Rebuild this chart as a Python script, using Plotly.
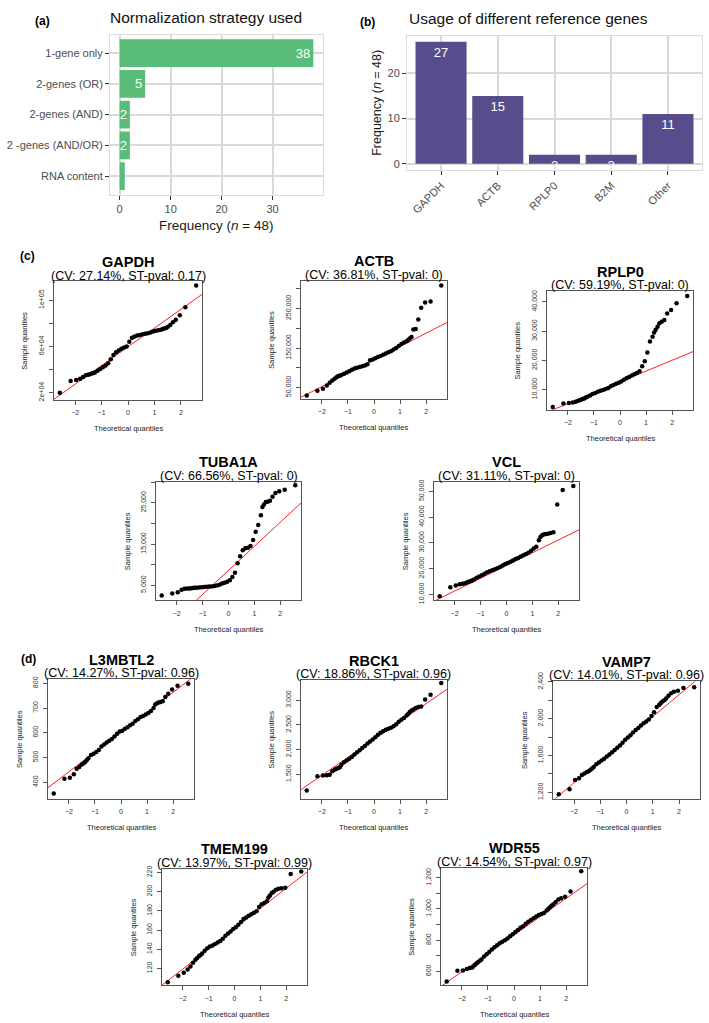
import plotly.graph_objects as go

W, H = 709, 1023
FONT = "Liberation Sans"

# ---------------- data ----------------
# (a) normalization strategy
strategy_labels = ["1-gene only", "2-genes (OR)", "2-genes (AND)", "2 -genes (AND/OR)", "RNA content"]
strategy_counts = [38, 5, 2, 2, 1]
strategy_text = ["38", "5", "2", "2", ""]

# (b) reference genes
ref_genes = ["GAPDH", "ACTB", "RPLP0", "B2M", "Other"]
ref_counts = [27, 15, 2, 2, 11]

# (c)/(d) QQ plots: theoretical quantiles shared by all panels
theo_q = [-2.58, -2.17, -1.96, -1.81, -1.70, -1.60, -1.51, -1.44, -1.37, -1.31, -1.25,
          -1.15, -1.05, -0.95, -0.85, -0.75, -0.65, -0.55, -0.45, -0.35, -0.25, -0.15, -0.05,
          0.05, 0.15, 0.25, 0.35, 0.45, 0.55, 0.65, 0.75, 0.85, 0.95, 1.05, 1.15,
          1.25, 1.31, 1.37, 1.44, 1.51, 1.60, 1.70, 1.81, 1.96, 2.17, 2.58]

gapdh_q = [20000, 30000, 31000, 32000, 33500, 35000, 35500, 36000, 36500, 37000, 37500,
           39000, 40500, 42000, 43500, 45500, 49000, 52500, 55000, 56500, 58000, 59000, 60000,
           64000, 67500, 68500, 69500, 70000, 70500, 71000, 71500, 72000, 73000, 73500, 74000,
           74500, 75000, 75500, 76000, 77000, 78500, 81000, 83000, 87000, 94000, 112800]
actb_q = [30000, 42000, 47000, 55000, 62000, 68000, 72000, 76000, 79000, 80000, 82000,
          85000, 88000, 91000, 95000, 98000, 100000, 102000, 104000, 106000, 109000, 119000, 121000,
          124000, 127000, 130000, 133000, 136000, 139000, 142000, 146000, 150000, 155000, 160000, 164000,
          167000, 170000, 174000, 178000, 197000, 198000, 222000, 252000, 265000, 268000, 308000]
rplp0_q = [4100, 5300, 5400, 5600, 5900, 6200, 6500, 6800, 7000, 7300, 7600,
           8000, 8500, 8900, 9300, 9600, 9900, 10200, 10600, 11200, 11600, 12000, 12400,
           12800, 13400, 13900, 14300, 14800, 15300, 15700, 16300, 18000, 19700, 22700, 26500,
           28100, 29500, 30500, 31500, 32700, 33200, 33800, 36000, 37200, 39500, 42000]
tuba1a_q = [2500, 3000, 3300, 3900, 4100, 4200, 4200, 4250, 4300, 4350, 4400,
            4450, 4500, 4550, 4600, 4650, 4700, 4800, 4900, 5100, 5400, 5600, 5800,
            6200, 7000, 8000, 10300, 12000, 13500, 14000, 14100, 14500, 16000, 18000, 19600,
            22000, 24000, 24600, 25200, 25300, 25500, 26500, 27400, 27800, 28200, 29300]
vcl_q = [9300, 12800, 13500, 14000, 14200, 14400, 14700, 15000, 15200, 15500, 15800,
         16500, 17000, 17500, 18000, 18600, 19000, 19400, 19800, 20200, 20700, 21200, 21800,
         22200, 22700, 23200, 23800, 24200, 24700, 25200, 25700, 26200, 27000, 27800, 28500,
         31000, 32300, 33000, 33300, 33500, 33600, 33900, 34200, 44900, 50600, 52100]
l3mbtl2_q = [355, 414, 418, 432, 455, 462, 472, 476, 482, 490, 497,
             510, 515, 522, 530, 545, 553, 561, 568, 575, 585, 596, 605,
             608, 616, 622, 630, 637, 648, 655, 664, 668, 674, 680, 688,
             700, 714, 718, 722, 725, 728, 745, 758, 775, 790, 798]
rbck1_q = [1170, 1460, 1475, 1480, 1490, 1560, 1590, 1610, 1625, 1640, 1690,
           1740, 1775, 1810, 1850, 1900, 1945, 1985, 2030, 2070, 2120, 2160, 2200,
           2250, 2300, 2340, 2370, 2400, 2420, 2440, 2470, 2510, 2560, 2600, 2640,
           2690, 2720, 2760, 2790, 2810, 2840, 2860, 2870, 3010, 3110, 3346]
vamp7_q = [1180, 1235, 1335, 1353, 1390, 1405, 1420, 1430, 1445, 1460, 1475,
           1505, 1525, 1545, 1565, 1590, 1610, 1635, 1660, 1685, 1710, 1740, 1770,
           1795, 1820, 1850, 1878, 1900, 1925, 1950, 1970, 1990, 2030, 2070, 2126,
           2150, 2170, 2185, 2200, 2220, 2250, 2275, 2291, 2304, 2332, 2342]
tmem199_q = [105.7, 112.5, 115.6, 118.8, 122, 126, 129, 131, 133, 134, 135.5,
             138.5, 141, 142.8, 144, 145.5, 147, 148.5, 151, 154, 156.5, 158.5, 161,
             163, 165.5, 168.5, 171.4, 173, 175, 176.5, 178, 179.5, 184, 187, 188.3,
             190, 194, 196, 198.5, 200, 202, 203, 203.5, 204, 218.3, 221]
wdr55_q = [535, 604, 606, 615, 621, 625, 640, 650, 660, 668, 676,
           695, 710, 725, 740, 755, 768, 780, 790, 800, 810, 825, 838,
           852, 865, 880, 890, 905, 918, 930, 940, 952, 962, 968, 975,
           990, 998, 1010, 1020, 1030, 1045, 1060, 1068, 1078, 1112, 1242]

qq_genes = ["GAPDH", "ACTB", "RPLP0", "TUBA1A", "VCL", "L3MBTL2", "RBCK1", "VAMP7", "TMEM199", "WDR55"]
qq_samples = [gapdh_q, actb_q, rplp0_q, tuba1a_q, vcl_q, l3mbtl2_q, rbck1_q, vamp7_q, tmem199_q, wdr55_q]
qq_cv = ["27.14", "36.81", "59.19", "66.56", "31.11", "14.27", "18.86", "14.01", "13.97", "14.54"]
qq_pval = ["0.17", "0", "0", "0", "0", "0.96", "0.96", "0.96", "0.99", "0.97"]
# qq reference line (intercept, slope)
qq_intercept = [59700, 120000, 12650, 8600, 21250, 603, 2203, 1782, 161.5, 833]
qq_slope = [16200, 33800, 3700, 5850, 4950, 80.4, 363, 239, 21.07, 117.5]

# y-axis ticks per QQ panel
qq_tickvals = [
    [20000, 40000, 60000, 80000, 100000],
    [50000, 100000, 150000, 200000, 250000, 300000],
    [10000, 20000, 30000, 40000],
    [5000, 10000, 15000, 20000, 25000, 30000],
    [10000, 20000, 30000, 40000, 50000],
    [400, 500, 600, 700, 800],
    [1500, 2000, 2500, 3000],
    [1200, 1400, 1600, 1800, 2000, 2200, 2400],
    [120, 140, 160, 180, 200, 220],
    [600, 700, 800, 900, 1000, 1100, 1200],
]
qq_ticktext = [
    ["2e+04", "", "6e+04", "", "1e+05"],
    ["50,000", "", "150,000", "", "250,000", ""],
    ["10,000", "20,000", "30,000", "40,000"],
    ["5,000", "", "15,000", "", "25,000", ""],
    ["10,000", "20,000", "30,000", "40,000", "50,000"],
    ["400", "500", "600", "700", "800"],
    ["1,500", "2,000", "2,500", "3,000"],
    ["1,200", "", "1,600", "", "2,000", "", "2,400"],
    ["120", "140", "160", "180", "200", "220"],
    ["600", "", "800", "", "1,000", "", "1,200"],
]

# ---------------- layout geometry (pixels) ----------------
qq_boxes = [  # left, top, right, bottom
    (54, 276, 202, 396),
    (301, 275, 447, 395),
    (547, 286, 693, 406),
    (156, 479, 301, 599),
    (434, 479, 579, 599),
    (48, 679, 194, 800),
    (301, 680, 447, 800),
    (553, 681, 700, 800),
    (162, 871, 307, 989),
    (441, 870, 587, 989),
]
qq_yranges = [
    [13700, 116200], [21000, 320800], [3100, 43600], [1300, 30100], [7700, 53700],
    [333, 816], [1000, 3400], [1130, 2405], [102.3, 223.7], [510, 1263],
]

GRID = "#d9d9d9"
TICKC = "#333333"
LABC = "#4d4d4d"


def dom_x(x0, x1):
    return [x0 / W, x1 / W]


def dom_y(y0, y1):
    return [1 - y1 / H, 1 - y0 / H]


def note(text, x, y, size, color="#000000", angle=0, xanchor="center", yanchor="middle"):
    return dict(text=text, x=x / W, y=1 - y / H, xref="paper", yref="paper", showarrow=False,
                font=dict(size=size, color=color, family=FONT), textangle=angle,
                xanchor=xanchor, yanchor=yanchor)


fig = go.Figure()
annotations = []

# ---- (a) horizontal bars ----
fig.add_trace(go.Bar(
    x=strategy_counts, y=strategy_labels, orientation="h", width=0.9,
    marker=dict(color="#59bc79", line=dict(width=0)),
    text=strategy_text, textposition="inside", insidetextanchor="end", textangle=0,
    textfont=dict(color="white", size=13, family=FONT),
    xaxis="x", yaxis="y", showlegend=False, hoverinfo="skip",
))

# ---- (b) vertical bars ----
fig.add_trace(go.Bar(
    x=ref_genes, y=ref_counts, width=0.9,
    marker=dict(color="#574d8c", line=dict(width=0)),
    text=[str(v) for v in ref_counts], textposition="inside", insidetextanchor="end", textangle=0,
    textfont=dict(color="white", size=13, family=FONT),
    xaxis="x2", yaxis="y2", showlegend=False, hoverinfo="skip",
))

bar_axis = dict(showgrid=True, gridcolor=GRID, gridwidth=1.8, zeroline=False,
                showline=True, mirror=True, linecolor="#dcdcdc", linewidth=1,
                ticks="outside", ticklen=4, tickcolor=TICKC,
                tickfont=dict(size=11, color=LABC, family=FONT))

layout_axes = {
    "xaxis": dict(bar_axis, domain=dom_x(110, 323), range=[-1.9, 39.9], tick0=0, dtick=10, anchor="y"),
    "yaxis": dict(bar_axis, domain=dom_y(26, 188), type="category", categoryorder="array",
                  categoryarray=strategy_labels, range=[4.6, -0.6], anchor="x"),
    "xaxis2": dict(bar_axis, domain=dom_x(407, 702), type="category", range=[-0.6, 4.6],
                   tickangle=-45, anchor="y2"),
    "yaxis2": dict(bar_axis, domain=dom_y(27, 163), range=[-1.35, 28.35], tick0=0, dtick=10, anchor="x2"),
}

annotations += [
    note("<b>(a)</b>", 42, 12, 12),
    note("Normalization strategy used", 206, 9, 15.5, "#111111"),
    note("Frequency (<i>n</i> = 48)", 216, 219, 13.5, "#1a1a1a"),
    note("<b>(b)</b>", 367, 13, 12),
    note("Usage of different reference genes", 407, 10, 15.5, "#111111", xanchor="left"),
    note("Frequency (<i>n</i> = 48)", 377, 95, 12.5, "#1a1a1a", angle=-90),
    note("<b>(c)</b>", 27, 250, 12),
    note("<b>(d)</b>", 28, 658, 12),
]

# ---- (c)/(d) QQ panels ----
for i, gene in enumerate(qq_genes):
    n = i + 3
    left, top, right, bottom = qq_boxes[i]
    a, b = qq_intercept[i], qq_slope[i]
    fig.add_trace(go.Scatter(
        x=[-3, 3], y=[a - 3 * b, a + 3 * b], mode="lines",
        line=dict(color="#ff2020", width=1),
        xaxis=f"x{n}", yaxis=f"y{n}", showlegend=False, hoverinfo="skip",
    ))
    fig.add_trace(go.Scatter(
        x=theo_q, y=qq_samples[i], mode="markers",
        marker=dict(color="black", size=4.5, line=dict(width=0)),
        xaxis=f"x{n}", yaxis=f"y{n}", showlegend=False,
    ))
    common = dict(showgrid=False, zeroline=False, showline=True, mirror=True,
                  linecolor="#555555", linewidth=1, ticks="outside", ticklen=4,
                  tickcolor="#555555", tickfont=dict(size=7, color="#333333", family=FONT))
    layout_axes[f"xaxis{n}"] = dict(common, domain=dom_x(left, right), range=[-2.8, 2.8],
                                    tickvals=[-2, -1, 0, 1, 2], anchor=f"y{n}", ticklabelstandoff=2)
    layout_axes[f"yaxis{n}"] = dict(common, domain=dom_y(top, bottom), range=qq_yranges[i],
                                    tickvals=qq_tickvals[i], ticktext=qq_ticktext[i],
                                    tickangle=-90, anchor=f"x{n}", ticklabelstandoff=2)
    cx = (left + right) / 2
    annotations += [
        note(f"<b>{gene}</b>", cx, top - 20, 14.5),
        note(f"(CV: {qq_cv[i]}%, ST-pval: {qq_pval[i]})", cx, top - 6, 12.5),
        note("Sample quantiles", left - 29, (top + bottom) / 2, 7.5, "#222222", angle=-90),
        note("Theoretical quantiles", cx, bottom + 29, 7.5, "#222222"),
    ]

fig.update_layout(
    width=W, height=H,
    margin=dict(l=0, r=0, t=0, b=0),
    paper_bgcolor="white", plot_bgcolor="white",
    font=dict(family=FONT),
    bargap=0.1,
    uniformtext=dict(minsize=13, mode="show"),
    annotations=annotations,
    **layout_axes,
)

# the page body has a default 8px margin; drop it so figure pixels match the window
fig.write_html("out.html", config={"displayModeBar": False},
               post_script="document.body.style.margin='0';")
